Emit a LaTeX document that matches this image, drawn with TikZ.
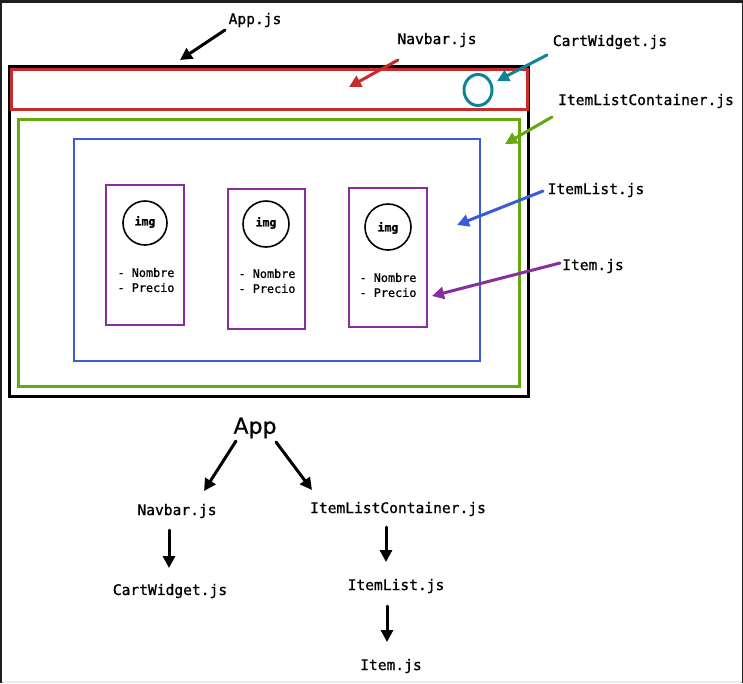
\documentclass[tikz,border=0pt]{standalone}
\usepackage{fontspec}
\setmainfont{DejaVu Sans}
\newfontfamily\codefont[FakeBold=0.9]{DejaVu Sans Mono}
\newfontfamily\headfont[FakeBold=0.6]{DejaVu Sans}
\usetikzlibrary{arrows.meta}
\definecolor{frame}{HTML}{1E1E1E}
\definecolor{navred}{HTML}{C92A2A}
\definecolor{cartteal}{HTML}{0C8599}
\definecolor{contgreen}{HTML}{66A80F}
\definecolor{listblue}{HTML}{3B5BDB}
\definecolor{itempurple}{HTML}{862E9C}
\tikzset{
  lbl/.style={font=\codefont\fontsize{14.6}{16}\selectfont, inner sep=0pt},
  cardtxt/.style={font=\codefont\fontsize{11.8}{15}\selectfont, inner sep=0pt, align=left},
  imgtxt/.style={font=\codefont\bfseries\fontsize{11.5}{13}\selectfont, inner sep=0pt},
  ptr/.style={line width=3pt, line cap=round, -{Triangle[length=12pt,width=12pt]}},
  card/.style={draw=itempurple, line width=2pt},
  photo/.style={draw=black, line width=1.6pt},
}
\begin{document}
\begin{tikzpicture}[x=1pt,y=-1pt]
% window frame
\fill[frame] (0,0) rectangle (743,683);
\fill[white] (1.7,3) rectangle (741.5,683);
\fill[black!8] (1.7,681) rectangle (741.5,683);
\useasboundingbox (0,0) rectangle (743,683);

% layout mock-up
\draw[black, line width=3pt] (9,66) rectangle (528,396);
\draw[navred, line width=3pt] (11,69) rectangle (527,109);
\draw[cartteal, line width=3pt] (478,90) ellipse [x radius=14, y radius=15.5];
\draw[contgreen, line width=3pt] (18,119) rectangle (519,386);
\draw[listblue, line width=1.5pt] (74,139) rectangle (480,361);

\draw[card] (106,185) rectangle (184,325);
\draw[card] (228,189) rectangle (305,329);
\draw[card] (349,188) rectangle (427,327);

\draw[photo] (145,223) circle [radius=22];
\draw[photo] (266,224) circle [radius=23];
\draw[photo] (388,227) circle [radius=23];
\node[imgtxt] (img1) at (145,222) {img};
\node[imgtxt] (img2) at (266,223) {img};
\node[imgtxt] (img3) at (388,228) {img};
\node[cardtxt] (data1) at (146,280) {- Nombre\\- Precio};
\node[cardtxt] (data2) at (267,281) {- Nombre\\- Precio};
\node[cardtxt] (data3) at (388,285) {- Nombre\\- Precio};

% component labels
\node[lbl] (lapp) at (255,20) {App.js};
\node[lbl] (lnav) at (437,40) {Navbar.js};
\node[lbl] (lcart) at (610,42) {CartWidget.js};
\node[lbl] (lcont) at (646,101) {ItemListContainer.js};
\node[lbl] (llist) at (596,190) {ItemList.js};
\node[lbl] (litem) at (593,266) {Item.js};

\coordinate (sapp) at (225,30);   \coordinate (eapp) at (180,60);
\coordinate (snav) at (398,60);   \coordinate (enav) at (349,87);
\coordinate (scart) at (547,55);  \coordinate (ecart) at (497,81);
\coordinate (scont) at (552,117); \coordinate (econt) at (505,144);
\coordinate (slist) at (543,191); \coordinate (elist) at (457,225);
\coordinate (sitem) at (560,263); \coordinate (eitem) at (432,296);

\draw[ptr, black] (sapp) -- (eapp);
\draw[ptr, navred] (snav) -- (enav);
\draw[ptr, cartteal] (scart) -- (ecart);
\draw[ptr, contgreen] (scont) -- (econt);
\draw[ptr, listblue] (slist) -- (elist);
\draw[ptr, itempurple] (sitem) -- (eitem);

% component tree
\node[font=\headfont\fontsize{22}{24}\selectfont, inner sep=0pt] (tapp) at (255,428) {App};
\node[lbl] (tnav) at (177,511) {Navbar.js};
\node[lbl] (tcont) at (398,509) {ItemListContainer.js};
\node[lbl] (tcart) at (170,591) {CartWidget.js};
\node[lbl] (tlist) at (396,586) {ItemList.js};
\node[lbl] (titem) at (391,666) {Item.js};

\coordinate (a1s) at (236,441); \coordinate (a1e) at (204,491);
\coordinate (a2s) at (276,442); \coordinate (a2e) at (312,490);
\coordinate (a3s) at (169,530); \coordinate (a3e) at (169,568);
\coordinate (a4s) at (386,527); \coordinate (a4e) at (386,562);
\coordinate (a5s) at (387,606); \coordinate (a5e) at (387,642);

\draw[ptr] (a1s) -- (a1e);
\draw[ptr] (a2s) -- (a2e);
\draw[ptr] (a3s) -- (a3e);
\draw[ptr] (a4s) -- (a4e);
\draw[ptr] (a5s) -- (a5e);
\end{tikzpicture}
\end{document}
